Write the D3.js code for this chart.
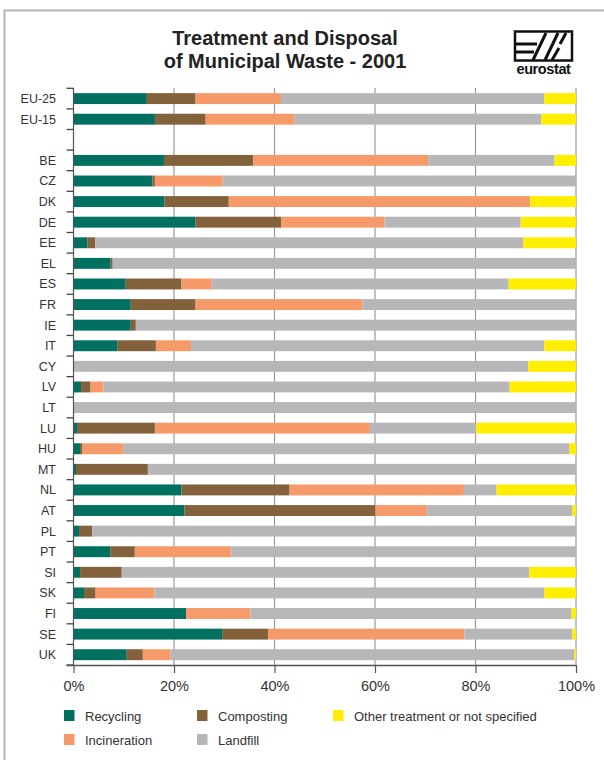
<!DOCTYPE html>
<html>
<head>
<meta charset="utf-8">
<script src="https://cdn.jsdelivr.net/npm/d3@7"></script>
<style>
  html, body { margin: 0; padding: 0; background: #fff; }
  svg { display: block; font-family: "Liberation Sans", Arial, Helvetica, sans-serif; }
</style>
</head>
<body>
<svg id="chart" width="604" height="760"></svg>
<script>
// Countries (a blank row separates the EU aggregates from the member states)
const categories = ["EU-25", "EU-15", " ", "BE", "CZ", "DK", "DE", "EE", "EL", "ES", "FR", "IE", "IT",
  "CY", "LV", "LT", "LU", "HU", "MT", "NL", "AT", "PL", "PT", "SI", "SK", "FI", "SE", "UK"];

// Share of municipal waste by treatment, % (2001)
const recycling    = [14.6, 16.2, 0, 18.0, 15.7, 18.1, 24.3, 2.8, 7.4, 10.4, 11.4, 11.4, 8.8,
  0, 1.5, 0, 0.7, 1.3, 0.5, 21.5, 22.1, 1.1, 7.3, 1.3, 2.1, 22.4, 29.7, 10.6];
const composting   = [9.7, 10.1, 0, 17.8, 0.5, 12.8, 17.0, 1.5, 0.4, 11.1, 12.9, 1.0, 7.6,
  0, 1.9, 0, 15.5, 0.5, 14.3, 21.5, 38.0, 2.6, 4.9, 8.3, 2.3, 0, 9.0, 3.2];
const incineration = [17.0, 17.7, 0, 34.8, 13.5, 60.0, 20.6, 0, 0, 6.0, 33.2, 0, 7.0,
  0, 2.6, 0, 42.8, 8.2, 0, 34.7, 10.2, 0, 19.2, 0, 11.7, 12.8, 39.1, 5.5];
const landfill     = [52.4, 49.1, 0, 25.1, 70.3, 0, 27.1, 85.2, 92.2, 59.1, 42.5, 87.6, 70.3,
  90.5, 80.8, 100, 21.2, 88.7, 85.2, 6.5, 29.0, 96.3, 68.6, 81.1, 77.6, 63.9, 21.5, 80.4];
const other        = [6.3, 6.9, 0, 4.3, 0, 9.1, 11.0, 10.5, 0, 13.4, 0, 0, 6.3,
  9.5, 13.2, 0, 19.8, 1.3, 0, 15.8, 0.7, 0, 0, 9.3, 6.3, 0.9, 0.7, 0.3];

const seriesNames = ["Recycling", "Composting", "Incineration", "Landfill", "Other treatment or not specified"];
const seriesColors = ["#007060", "#83613a", "#f79a6a", "#b7b7ba", "#ffee00"];
const xTicks = [0, 20, 40, 60, 80, 100];

const title = ["Treatment and Disposal", "of Municipal Waste - 2001"];

// Build rows for the stack layout
const seriesValues = [recycling, composting, incineration, landfill, other];
const rows = categories.map((c, i) => {
  const r = { country: c };
  seriesNames.forEach((s, k) => { r[s] = seriesValues[k][i]; });
  return r;
});

const svg = d3.select("#chart");

// Outer frame (left and top edges)
svg.append("path")
  .attr("d", "M4.5,760 L4.5,10.5 L604,10.5")
  .attr("fill", "none")
  .attr("stroke", "#b4b4b4")
  .attr("stroke-width", 2);

// Title, two lines
svg.append("g")
  .selectAll("text")
  .data(title)
  .join("text")
  .attr("x", 285)
  .attr("y", (d, i) => 45 + i * 22.5)
  .attr("text-anchor", "middle")
  .attr("font-weight", "bold")
  .attr("font-size", 20)
  .attr("fill", "#222")
  .text(d => d);

// Logo
const logo = svg.append("g");
logo.append("rect").attr("x", 515).attr("y", 31.5).attr("width", 57).attr("height", 29)
  .attr("fill", "#fff").attr("stroke", "#111").attr("stroke-width", 2.5);
logo.append("path")
  .attr("d", "M515,44 L537,44 M515,52 L534,52 M533,60 L546,33 M545,60 L558,33 M560,44 L566,33 M552,60 L559,48")
  .attr("fill", "none").attr("stroke", "#111").attr("stroke-width", 3);
logo.append("text").attr("x", 543.5).attr("y", 74).attr("text-anchor", "middle")
  .attr("font-size", 14.5).attr("font-weight", "bold").attr("fill", "#111")
  .attr("letter-spacing", -0.4).text("eurostat");

// Scales
const x = d3.scaleLinear().domain([0, 100]).range([73.5, 576]);
const y = d3.scaleBand().domain(categories).range([88.3, 665]).paddingInner(0.47).paddingOuter(0.235);

// Vertical gridlines
svg.append("g")
  .selectAll("line")
  .data(xTicks.slice(1))
  .join("line")
  .attr("x1", d => x(d)).attr("x2", d => x(d))
  .attr("y1", 88).attr("y2", 665)
  .attr("stroke", "#9a9a9a").attr("stroke-width", 1.2);

// Stacked bars
const stacked = d3.stack().keys(seriesNames)(rows);
svg.append("g")
  .selectAll("g")
  .data(stacked)
  .join("g")
  .attr("fill", (d, i) => seriesColors[i])
  .selectAll("rect")
  .data(d => d)
  .join("rect")
  .attr("x", d => x(d[0]))
  .attr("width", d => Math.max(0, x(d[1]) - x(d[0])))
  .attr("y", d => y(d.data.country))
  .attr("height", y.bandwidth());

// Y axis: line plus ticks at band boundaries
const yAxis = svg.append("g");
const step = y.step();
const boundaries = d3.range(categories.length + 1).map(i => 88.3 + i * step);
yAxis.append("line")
  .attr("x1", 73.5).attr("x2", 73.5).attr("y1", 88).attr("y2", 665)
  .attr("stroke", "#555").attr("stroke-width", 1.2);
yAxis.selectAll("line.tick")
  .data(boundaries)
  .join("line")
  .attr("class", "tick")
  .attr("x1", 66.5).attr("x2", 73.5)
  .attr("y1", d => d).attr("y2", d => d)
  .attr("stroke", "#444").attr("stroke-width", 1.3);
yAxis.selectAll("text")
  .data(categories)
  .join("text")
  .attr("x", 56)
  .attr("y", d => y(d) + y.bandwidth() / 2)
  .attr("dy", "0.36em")
  .attr("text-anchor", "end")
  .attr("font-size", 12.5)
  .attr("fill", "#333")
  .text(d => d);

// X axis
const xAxis = svg.append("g").attr("transform", "translate(0,665)")
  .call(d3.axisBottom(x).tickValues(xTicks).tickSize(8).tickPadding(8).tickFormat(d => d + "%"));
xAxis.select(".domain").attr("d", "M66.5,0.5 H576").attr("stroke", "#555").attr("stroke-width", 1.3);
xAxis.selectAll(".tick line").attr("stroke", "#555").attr("stroke-width", 1.2);
xAxis.selectAll(".tick text")
  .attr("font-size", 14.5)
  .attr("fill", "#333")
  .attr("font-family", "Liberation Sans, Arial, sans-serif");

// Legend
const legendPos = [[64, 710], [197, 710], [64, 734], [197, 734], [333, 710]];
const legend = svg.append("g");
seriesNames.forEach((name, i) => {
  const [lx, ly] = legendPos[i];
  legend.append("rect").attr("x", lx).attr("y", ly).attr("width", 10.5).attr("height", 11)
    .attr("fill", seriesColors[i]);
  legend.append("text").attr("x", lx + 21).attr("y", ly + 10.5)
    .attr("font-size", 13).attr("fill", "#333").text(name);
});
</script>
</body>
</html>
